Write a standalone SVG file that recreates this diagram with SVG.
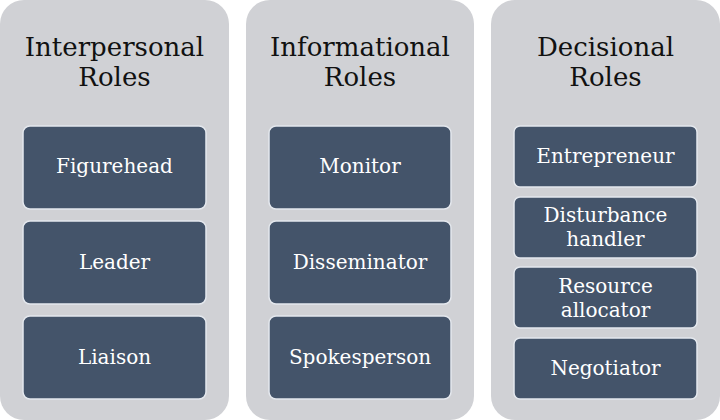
<svg xmlns="http://www.w3.org/2000/svg" width="720" height="420" viewBox="0 0 720 420">
<style>
.col{fill:#D0D1D5}
.box{fill:#44546A;stroke:#E4E8EE;stroke-width:1.5}
.h{font-family:"DejaVu Serif","Liberation Serif",serif;font-size:26px;fill:#111111;text-anchor:middle}
.t{font-family:"DejaVu Serif","Liberation Serif",serif;font-size:20px;fill:#FFFFFF;text-anchor:middle}
</style>
<rect width="720" height="420" fill="#FFFFFF"/>
<g id="col-interpersonal">
<rect class="col" x="0" y="0" width="229" height="420" rx="24"/>
<text class="h" x="114.5" y="56">Interpersonal</text>
<text class="h" x="114.5" y="86">Roles</text>
</g>
<g id="col-informational">
<rect class="col" x="246" y="0" width="228" height="420" rx="24"/>
<text class="h" x="360" y="56">Informational</text>
<text class="h" x="360" y="86">Roles</text>
</g>
<g id="col-decisional">
<rect class="col" x="491" y="0" width="229" height="420" rx="24"/>
<text class="h" x="605.5" y="56">Decisional</text>
<text class="h" x="605.5" y="86">Roles</text>
</g>
<g id="figurehead"><rect class="box" x="23" y="126" width="183" height="83" rx="7"/><text class="t" x="114.5" y="173">Figurehead</text></g>
<g id="leader"><rect class="box" x="23" y="221" width="183" height="83" rx="7"/><text class="t" x="114.5" y="269">Leader</text></g>
<g id="liaison"><rect class="box" x="23" y="316" width="183" height="83" rx="7"/><text class="t" x="114.5" y="364">Liaison</text></g>
<g id="monitor"><rect class="box" x="269" y="126" width="182" height="83" rx="7"/><text class="t" x="360" y="173">Monitor</text></g>
<g id="disseminator"><rect class="box" x="269" y="221" width="182" height="83" rx="7"/><text class="t" x="360" y="269">Disseminator</text></g>
<g id="spokesperson"><rect class="box" x="269" y="316" width="182" height="83" rx="7"/><text class="t" x="360" y="364">Spokesperson</text></g>
<g id="entrepreneur"><rect class="box" x="514" y="126" width="183" height="61" rx="6"/><text class="t" x="605.5" y="163">Entrepreneur</text></g>
<g id="disturbance-handler"><rect class="box" x="514" y="197" width="183" height="61" rx="6"/><text class="t" x="605.5" y="222">Disturbance</text><text class="t" x="605.5" y="246">handler</text></g>
<g id="resource-allocator"><rect class="box" x="514" y="267" width="183" height="61" rx="6"/><text class="t" x="605.5" y="293">Resource</text><text class="t" x="605.5" y="317">allocator</text></g>
<g id="negotiator"><rect class="box" x="514" y="338" width="183" height="61" rx="6"/><text class="t" x="605.5" y="375">Negotiator</text></g>
<g id="connectors"></g>
</svg>
